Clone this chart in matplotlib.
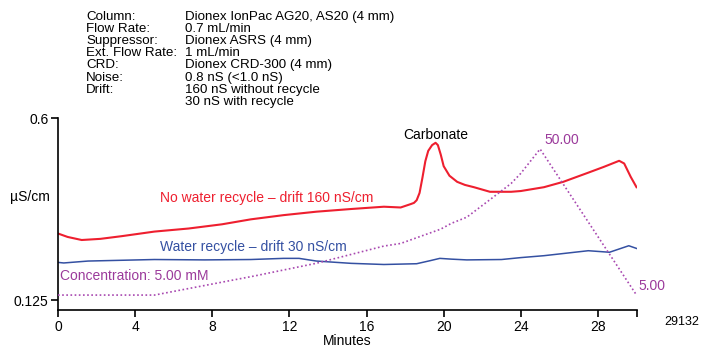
import matplotlib.pyplot as plt

plt.rcParams['font.family'] = ['Liberation Sans', 'DejaVu Sans']
plt.rcParams['font.size'] = 10

# conductivity traces (uS/cm) vs minutes
red_t = [0, 0.5, 1.23, 2.2, 3.3, 5.0, 6.77, 8.5, 10.0, 11.7, 13.4, 15.2, 16.9, 17.77,
         18.3, 18.46, 18.6, 18.75, 18.9, 19.05, 19.2, 19.4, 19.58, 19.7, 19.85, 20.0,
         20.3, 20.7, 21.1, 21.57, 22.4, 23.5, 24.0, 25.2, 26.2, 27.5, 28.3, 29.1, 29.36,
         29.7, 30.0]
red_v = [0.299, 0.290, 0.282, 0.285, 0.292, 0.304, 0.312, 0.323, 0.336, 0.347, 0.356,
         0.363, 0.369, 0.367, 0.376, 0.379, 0.386, 0.405, 0.445, 0.488, 0.515, 0.530,
         0.536, 0.530, 0.505, 0.475, 0.450, 0.434, 0.426, 0.420, 0.408, 0.408, 0.410,
         0.420, 0.434, 0.458, 0.473, 0.489, 0.482, 0.447, 0.420]

blue_t = [0, 0.3, 1.56, 5.0, 7.6, 10.0, 11.7, 12.5, 13.4, 15.2, 16.9, 18.6, 19.3, 19.8,
          20.4, 21.2, 23.0, 24.0, 25.2, 27.5, 28.6, 29.6, 30.0]
blue_v = [0.2235, 0.222, 0.227, 0.231, 0.230, 0.231, 0.234, 0.234, 0.227, 0.221, 0.218,
          0.220, 0.228, 0.234, 0.232, 0.230, 0.231, 0.236, 0.241, 0.254, 0.250, 0.267,
          0.260]

# eluent concentration (mM)
conc_t = [0, 5.0, 10.2, 13.4, 16.9, 17.77, 19.84, 20.4, 21.2, 22.6, 23.5, 24.0, 25.0, 30.0]
conc_v = [5.0, 5.0, 10.9, 14.8, 20.1, 20.9, 25.3, 27.1, 29.0, 35.3, 39.4, 42.5, 50.0, 5.0]

x_ticks = [0, 4, 8, 12, 16, 20, 24, 28, 30]
x_labels = ['0', '4', '8', '12', '16', '20', '24', '28', '']

labels = ['Column:', 'Flow Rate:', 'Suppressor:', 'Ext. Flow Rate:', 'CRD:', 'Noise:', 'Drift:', '']
values = ['Dionex IonPac AG20, AS20 (4 mm)', '0.7 mL/min', 'Dionex ASRS (4 mm)', '1 mL/min',
          'Dionex CRD-300 (4 mm)', '0.8 nS (<1.0 nS)', '160 nS without recycle',
          '30 nS with recycle']

red = '#ee1f2f'
blue = '#3450a2'
purple = '#9b3a9b'

fig = plt.figure(figsize=(7.01, 3.48), dpi=100)
ax = fig.add_axes([0.0827, 0.109, 0.8253, 0.551])
ax.plot(red_t, red_v, color=red, lw=1.5)
ax.plot(blue_t, blue_v, color=blue, lw=1.1)
ax.set_xlim(0, 30)
ax.set_ylim(0.0989, 0.6)
ax.set_xticks(x_ticks)
ax.set_xticklabels(x_labels)
ax.set_yticks([0.125, 0.6])
ax.set_yticklabels(['0.125', '0.6'])
ax.set_xlabel('Minutes', labelpad=0)
for s in ['top', 'right']:
    ax.spines[s].set_visible(False)
for s in ['left', 'bottom']:
    ax.spines[s].set_linewidth(1.2)
ax.tick_params(direction='out', length=5, width=1.2, pad=2)

ax2 = ax.twinx()
ax2.plot(conc_t, conc_v, color='#a848b0', lw=1.2, ls=(0, (1, 1.5)))
ax2.set_ylim(0.38, 59.46)
ax2.set_axis_off()

ax.text(5.3, 0.392, 'No water recycle \u2013 drift 160 nS/cm', color=red, va='center')
ax.text(5.3, 0.264, 'Water recycle \u2013 drift 30 nS/cm', color=blue, va='center')
ax.text(0.1, 0.188, 'Concentration: 5.00 mM', color=purple, va='center')
ax.text(19.6, 0.556, 'Carbonate', ha='center', va='center')
ax.text(25.2, 0.543, '50.00', color=purple, va='center')
ax.text(30.1, 0.161, '5.00', color=purple, va='center')

fig.text(0.071, 1 - 197 / 348, '\u00b5S/cm', ha='right', va='center')
fig.text(0.997, 1 - 322 / 348, '29132', ha='right', va='center', fontsize=9)

# instrument conditions block (both columns: 8 lines, same last baseline)
ybase = 1 - 104.7 / 348
fig.text(86 / 701, ybase, '\n'.join(labels), va='baseline', fontsize=9.6, linespacing=1.01)
fig.text(185 / 701, ybase, '\n'.join(values), va='baseline', fontsize=9.6, linespacing=1.01)

fig.savefig('out.png')
